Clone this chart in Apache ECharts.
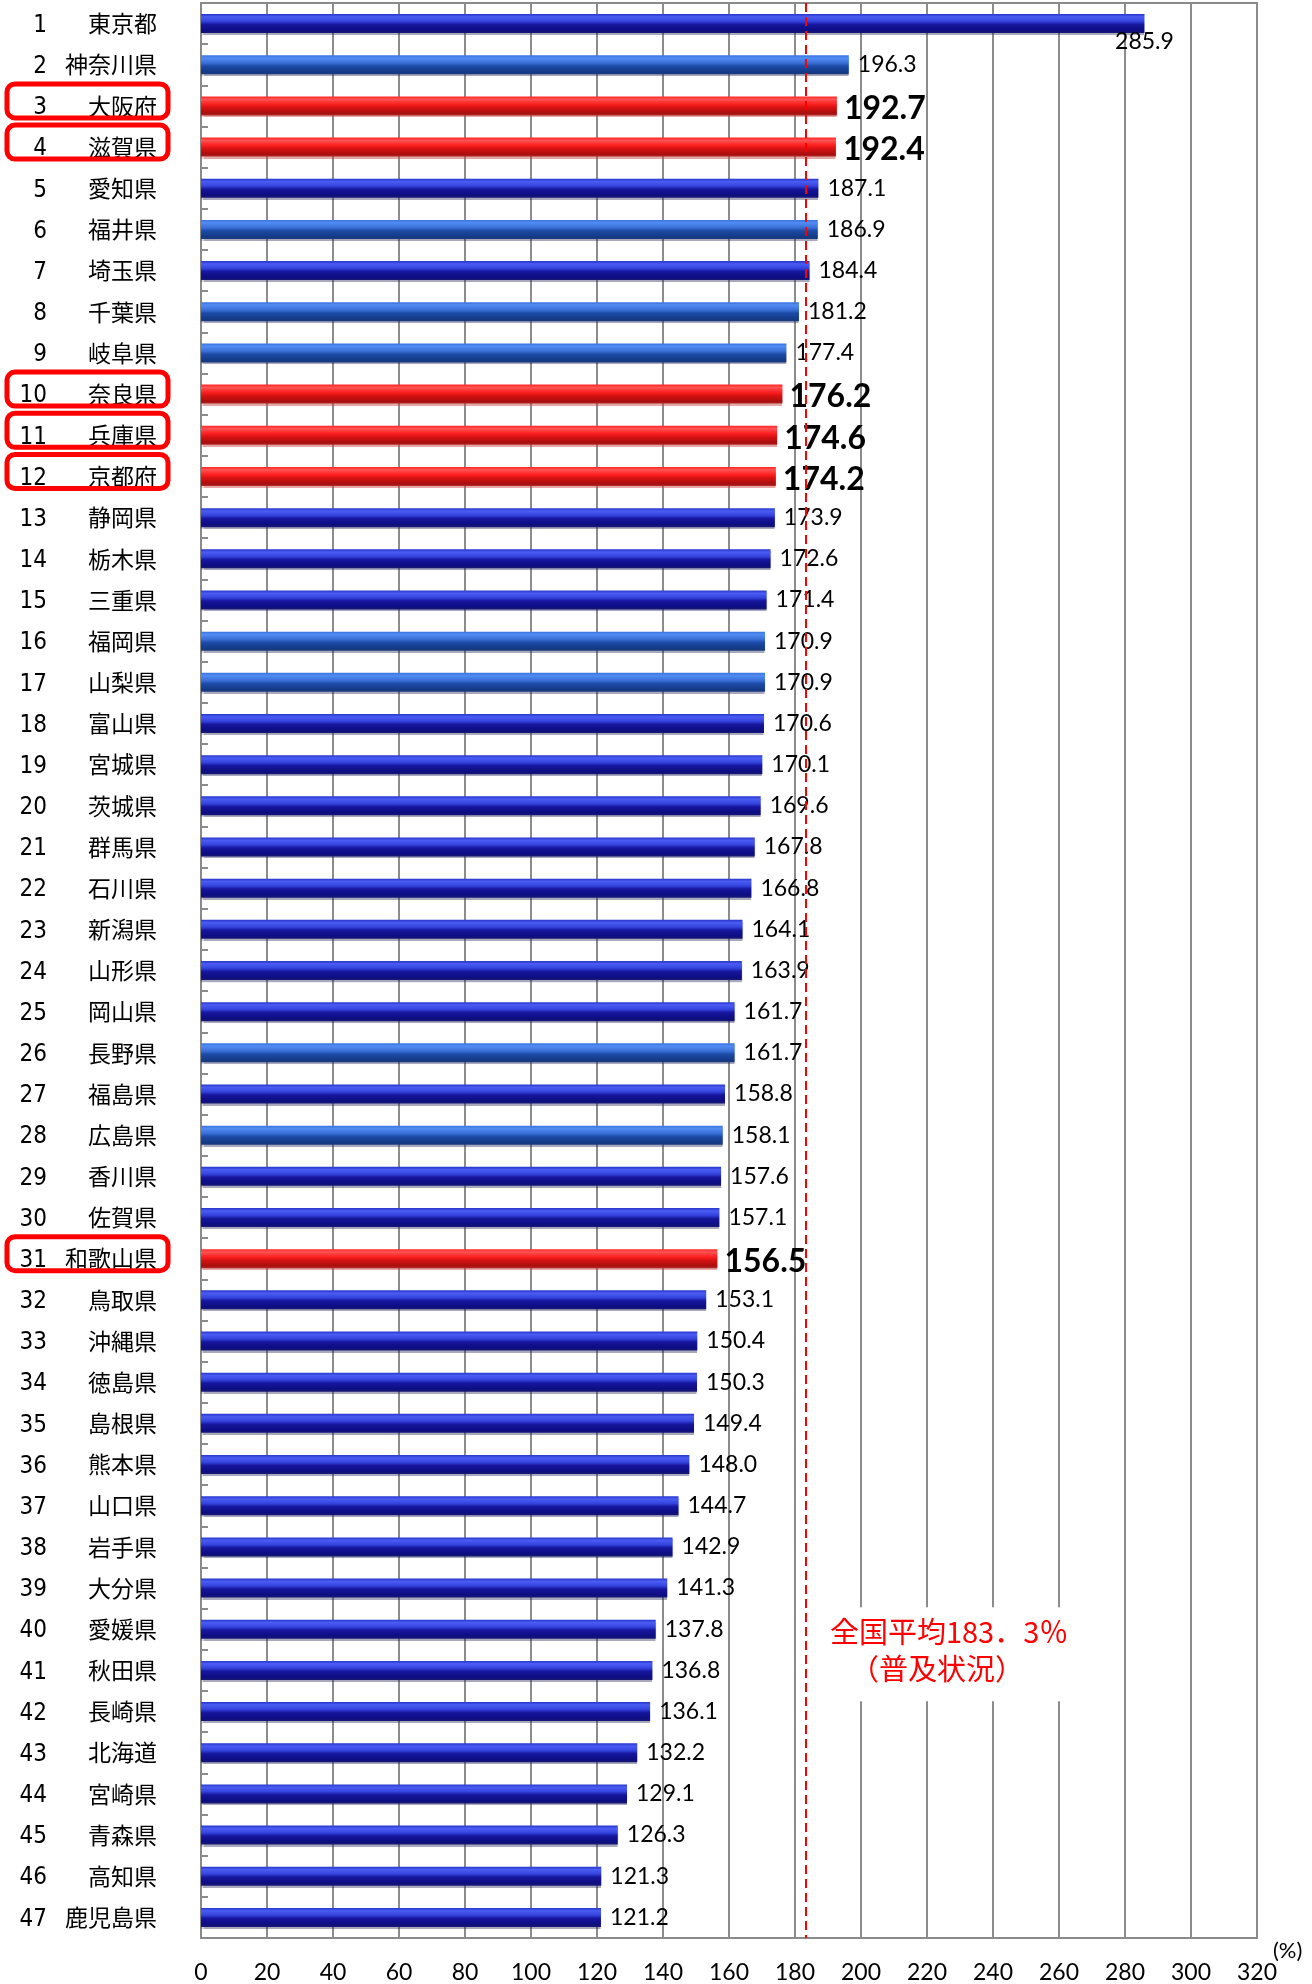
<!DOCTYPE html>
<html>
<head>
<meta charset="utf-8">
<script src="https://cdn.jsdelivr.net/npm/echarts@6/dist/echarts.min.js"></script>
<style>
html,body{margin:0;padding:0;background:#ffffff;}
#chart{width:1312px;height:1984px;}
</style>
</head>
<body>
<div id="chart"></div>
<script>
// ---- data ----
const ranks = [1,2,3,4,5,6,7,8,9,10,11,12,13,14,15,16,17,18,19,20,21,22,23,24,25,26,27,28,29,30,31,32,33,34,35,36,37,38,39,40,41,42,43,44,45,46,47];
const prefectures = ['東京都','神奈川県','大阪府','滋賀県','愛知県','福井県','埼玉県','千葉県','岐阜県','奈良県','兵庫県','京都府','静岡県','栃木県','三重県','福岡県','山梨県','富山県','宮城県','茨城県','群馬県','石川県','新潟県','山形県','岡山県','長野県','福島県','広島県','香川県','佐賀県','和歌山県','鳥取県','沖縄県','徳島県','島根県','熊本県','山口県','岩手県','大分県','愛媛県','秋田県','長崎県','北海道','宮崎県','青森県','高知県','鹿児島県'];
const values = [285.9,196.3,192.7,192.4,187.1,186.9,184.4,181.2,177.4,176.2,174.6,174.2,173.9,172.6,171.4,170.9,170.9,170.6,170.1,169.6,167.8,166.8,164.1,163.9,161.7,161.7,158.8,158.1,157.6,157.1,156.5,153.1,150.4,150.3,149.4,148.0,144.7,142.9,141.3,137.8,136.8,136.1,132.2,129.1,126.3,121.3,121.2];
const highlightedRanks = [3,4,10,11,12,31];
const lighterBlueRanks = [2,6,8,9,16,17,26,28];
const averageValue = 183.3;
const averageText = ['全国平均183．3％', '（普及状況）'];
const xMin = 0, xMax = 320, xInterval = 20;
const axisUnit = '(%)';

// ---- styles ----
function grad(stops){
  return new echarts.graphic.LinearGradient(0,0,0,1, stops.map(s=>({offset:s[0],color:s[1]})));
}
const navyFill = grad([[0,'#2636cc'],[0.15,'#4b5cf3'],[0.38,'#3444de'],[0.55,'#16169e'],[0.85,'#0d0d82'],[1,'#181874']]);
const steelFill = grad([[0,'#3874e0'],[0.15,'#528cf3'],[0.4,'#3a70d8'],[0.58,'#1c4aa6'],[0.88,'#143a86'],[1,'#1b3a7c']]);
const redFill = grad([[0,'#ff2424'],[0.15,'#ff5454'],[0.4,'#ff2020'],[0.58,'#d81212'],[0.88,'#a80e0e'],[1,'#b02a2a']]);

const chart = echarts.init(document.getElementById('chart'), null, {renderer:'canvas'});

const barData = values.map((v,i)=>{
  const r = ranks[i];
  const hl = highlightedRanks.includes(r);
  const item = {
    value: v,
    itemStyle: {
      color: hl ? redFill : (lighterBlueRanks.includes(r) ? steelFill : navyFill),
      shadowColor: hl ? 'rgba(200,60,60,0.45)' : 'rgba(40,40,90,0.4)',
      shadowOffsetY: 2, shadowBlur: 1
    }
  };
  if (hl) {
    item.label = {fontSize: 32, fontWeight: 'bold', offset: [0,3], distance: 7};
  }
  if (i === 0) {
    item.label = {position: ['100%','100%'], align: 'center', verticalAlign: 'top', offset: [0,-3]};
  }
  return item;
});

const option = {
  backgroundColor: '#ffffff',
  animation: false,
  grid: {left: 201, top: 3, width: 1056, height: 1937, show: true, borderColor: '#8a8a8a', borderWidth: 2, containLabel: false},
  xAxis: {
    type: 'value', min: xMin, max: xMax, interval: xInterval,
    axisLine: {show: true, lineStyle: {color: '#8a8a8a', width: 2}},
    axisTick: {show: false},
    axisLabel: {margin: 23, fontFamily: 'Lato, sans-serif', fontSize: 23, color: '#000'},
    splitLine: {show: true, lineStyle: {color: '#8c8c8c', width: 2}}
  },
  yAxis: {
    type: 'category', inverse: true, data: prefectures,
    axisLine: {show: true, lineStyle: {color: '#8a8a8a', width: 2}},
    axisTick: {show: true, inside: true, length: 7, lineStyle: {color: '#8a8a8a', width: 2}},
    axisLabel: {
      margin: 44, interval: 0, color: '#000',
      formatter: (val, idx) => '{num|' + ranks[idx] + '}{name|' + val + '}',
      rich: {
        num: {fontFamily: '"Liberation Sans Narrow","DejaVu Sans Condensed","DejaVu Sans",sans-serif', fontSize: 24, width: 41, align: 'right', color: '#000', padding: [4,0,0,0]},
        name: {fontFamily: '"Noto Sans CJK JP",sans-serif', fontSize: 23, width: 110, align: 'right', color: '#000'}
      }
    },
    splitLine: {show: false}
  },
  series: [{
    type: 'bar',
    barWidth: 19,
    data: barData,
    label: {
      show: true, position: 'right', distance: 9,
      fontFamily: 'Lato, sans-serif', fontSize: 23, color: '#000',
      formatter: p => Number(p.value).toFixed(1)
    },
    markLine: {
      silent: true, symbol: 'none',
      label: {show: false},
      lineStyle: {color: '#ff0000', type: [9,5], width: 2},
      data: [{xAxis: averageValue}]
    }
  }]
};
chart.setOption(option);

// annotation boxes, unit label and average note, positioned from the chart's own scales
const boxes = highlightedRanks.map(r => {
  const cy = chart.convertToPixel({yAxisIndex: 0}, prefectures[r-1]);
  return {type: 'rect', z: 100, shape: {x: 7, y: cy - 22, width: 161, height: 34, r: 8},
          style: {fill: 'none', stroke: '#ff0000', lineWidth: 5}};
});
const ax = chart.convertToPixel({xAxisIndex: 0}, averageValue);
const xEnd = chart.convertToPixel({xAxisIndex: 0}, xMax);
const rowY = chart.convertToPixel({yAxisIndex: 0}, prefectures[39]);
const lastY = chart.convertToPixel({yAxisIndex: 0}, prefectures[46]);
const prevY = chart.convertToPixel({yAxisIndex: 0}, prefectures[45]);
const axisY = lastY + (lastY - prevY) / 2;
const unitLabel = {
  type: 'text', z: 100, x: xEnd + 16, y: axisY + 13,
  style: {text: axisUnit, fontFamily: 'Lato, sans-serif', fontSize: 22, fill: '#000', align: 'left', verticalAlign: 'middle'}
};
const note = {
  type: 'text', z: 100, x: ax + 13, y: rowY - 22,
  style: {
    text: '{a|' + averageText[0] + '}\n{b|' + averageText[1] + '}',
    backgroundColor: '#ffffff',
    padding: [6, 10, 14, 11],
    rich: {
      a: {fontFamily: '"Noto Sans CJK JP",sans-serif', fontSize: 29, lineHeight: 37, fill: '#ff0000', color: '#ff0000'},
      b: {fontFamily: '"Noto Sans CJK JP",sans-serif', fontSize: 29, lineHeight: 37, fill: '#ff0000', color: '#ff0000', padding: [0,0,0,20]}
    }
  }
};
chart.setOption({graphic: boxes.concat([note, unitLabel])});
</script>
</body>
</html>
